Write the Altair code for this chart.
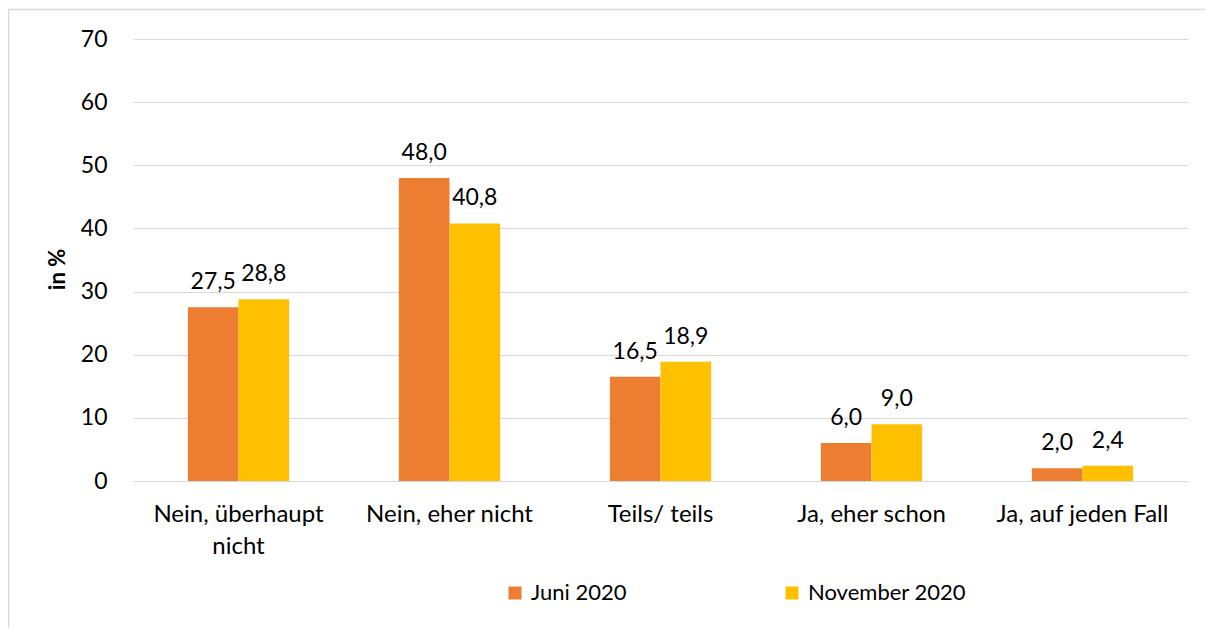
import altair as alt
import pandas as pd

categories = ["Nein, überhaupt nicht", "Nein, eher nicht", "Teils/ teils", "Ja, eher schon", "Ja, auf jeden Fall"]
series = ["Juni 2020", "November 2020"]
juni = [27.5, 48.0, 16.5, 6.0, 2.0]
november = [28.8, 40.8, 18.9, 9.0, 2.4]
colors = ["#ED7D31", "#FFC000"]
y_ticks = [0, 10, 20, 30, 40, 50, 60, 70]

rows = []
for c, a, b in zip(categories, juni, november):
    rows.append({"cat": c, "series": series[0], "value": a})
    rows.append({"cat": c, "series": series[1], "value": b})
df = pd.DataFrame(rows)

FONT = "Lato"
W, H = 1055, 442

x_enc = alt.X("cat:N", sort=categories, title=None,
              scale=alt.Scale(paddingInner=0.52, paddingOuter=0.26),
              axis=alt.Axis(labelAngle=0, ticks=False, domainColor="#D9D9D9", domainWidth=1,
                            labelFontSize=24, labelFont=FONT, labelColor="#000000",
                            labelPadding=21, labelBaseline="top", labelLineHeight=32,
                            labelLimit=400,
                            labelExpr="datum.label == 'Nein, überhaupt nicht' ? ['Nein, überhaupt', 'nicht'] : datum.label"))
y_enc = alt.Y("value:Q", title="in %",
              scale=alt.Scale(domain=[0, 70], nice=False),
              axis=alt.Axis(values=y_ticks, ticks=False, domain=False, gridColor="#D9D9D9",
                            gridWidth=1, labelFontSize=23, labelFont=FONT, labelColor="#000000",
                            labelPadding=26, titleFont=FONT, titleFontSize=22,
                            titleFontWeight="bold", titleColor="#000000", titleAngle=-90,
                            titleX=-76, titleY=H / 2 + 9, titleAlign="center", titleBaseline="middle"))
xo = alt.XOffset("series:N", sort=series, scale=alt.Scale(paddingInner=0, paddingOuter=0))

base = alt.Chart(df)
bars = base.mark_bar().encode(
    x=x_enc, xOffset=xo, y=y_enc,
    color=alt.Color("series:N", sort=series, scale=alt.Scale(domain=series, range=colors),
                    legend=alt.Legend(title=None, orient="none", legendX=371, legendY=543,
                                      direction="horizontal", symbolType="square",
                                      symbolSize=169, symbolStrokeWidth=0, labelFontSize=22,
                                      labelFont=FONT, labelColor="#000000", labelOffset=5,
                                      labelLimit=400, columnPadding=154, padding=0)),
)
labels = base.transform_calculate(
    lab="replace(format(datum.value, '.1f'), '.', ',')"
).mark_text(baseline="alphabetic", dy=-18, fontSize=23, font=FONT, color="#000000").encode(
    x=alt.X("cat:N", sort=categories), xOffset=xo, y="value:Q", text="lab:N"
)

deco = alt.Chart(pd.DataFrame({"a": [0]}))
top_line = deco.mark_rule(color="#D9D9D9", strokeWidth=1.5).encode(
    x=alt.value(-124.5), x2=alt.value(W + 17), y=alt.value(-29.5))
left_line = deco.mark_rule(color="#D9D9D9", strokeWidth=1.5).encode(
    x=alt.value(-124.5), y=alt.value(-29.5), y2=alt.value(H + 147))

chart = alt.layer(bars, labels, top_line, left_line).properties(
    width=W, height=H,
    autosize=alt.AutoSizeParams(type="none"),
    padding={"left": 125, "top": 31, "right": 17, "bottom": 147},
).configure_view(stroke=None)

chart.save("out.html", embed_options={"renderer": "svg", "actions": False})
